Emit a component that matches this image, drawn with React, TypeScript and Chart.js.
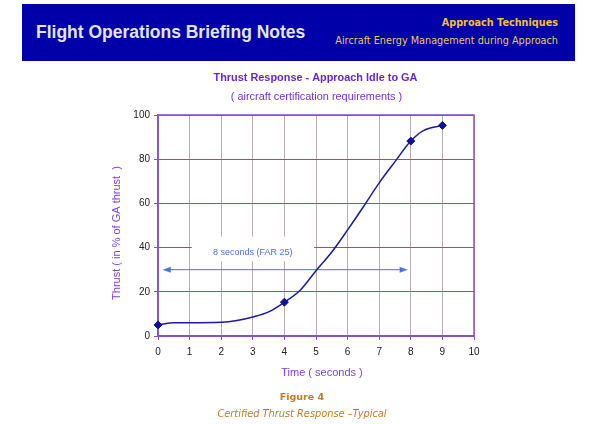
import React, { useEffect, useRef } from "react";
import { Chart, registerables } from "chart.js";

Chart.register(...registerables);

// ---- data ----
const timeSeconds = [0, 0.5, 1, 2, 2.5, 3, 3.5, 4, 4.5, 5, 5.5, 6, 6.5, 7, 7.5, 8, 8.4, 9];
const thrustPercent = [5, 6, 6, 6.2, 7, 8.6, 10.9, 15.3, 20.7, 29.5, 38, 48, 58.5, 69.3, 78.9, 88.2, 92.9, 95.3];
const markerTimes = [0, 4, 8, 9];
const xTickValues = [0, 1, 2, 3, 4, 5, 6, 7, 8, 9, 10];
const yTickValues = [0, 20, 40, 60, 80, 100];

const far25Start = 0.15;
const far25End = 7.9;
const far25Level = 30;
const far25Label = "8 seconds (FAR 25)";
const far25LabelX = 3.0;
const far25LabelY = 37.8;
const far25BoxX = [1.07, 4.94];
const far25BoxY = [33.8, 45];

const headerTitle = "Flight Operations Briefing Notes";
const headerTopic = "Approach Techniques";
const headerSub = "Aircraft Energy Management during Approach";
const chartTitle = "Thrust Response - Approach Idle to GA";
const chartSubtitle = "( aircraft certification requirements )";
const yAxisTitle = "Thrust ( in % of GA thrust  )";
const xAxisTitle = "Time ( seconds )";
const figureLabel = "Figure 4";
const figureCaption = "Certified Thrust Response \u2013Typical";

const PURPLE = "#8050d8";

export default function App() {
  const ref = useRef<HTMLCanvasElement>(null);

  useEffect(() => {
    document.body.style.margin = "0";
    const canvas = ref.current!;

    const overlay = {
      id: "overlay",
      beforeDatasetsDraw(chart: any) {
        const { ctx, chartArea } = chart;
        const xs = chart.scales.x;
        const ys = chart.scales.y;
        ctx.save();
        // white text box behind the label
        const bx1 = xs.getPixelForValue(far25BoxX[0]);
        const bx2 = xs.getPixelForValue(far25BoxX[1]);
        const by1 = ys.getPixelForValue(far25BoxY[1]);
        const by2 = ys.getPixelForValue(far25BoxY[0]);
        ctx.fillStyle = "#ffffff";
        ctx.fillRect(bx1, by1, bx2 - bx1, by2 - by1);
        // border around plot
        ctx.strokeStyle = PURPLE;
        ctx.lineWidth = 1.5;
        ctx.strokeRect(chartArea.left, chartArea.top, chartArea.right - chartArea.left, chartArea.bottom - chartArea.top);
        // arrow
        const ax1 = xs.getPixelForValue(far25Start);
        const ax2 = xs.getPixelForValue(far25End);
        const ay = ys.getPixelForValue(far25Level);
        ctx.strokeStyle = "#4a72e8";
        ctx.fillStyle = "#4a72e8";
        ctx.lineWidth = 1;
        ctx.beginPath();
        ctx.moveTo(ax1 + 4, ay);
        ctx.lineTo(ax2 - 4, ay);
        ctx.stroke();
        ctx.beginPath();
        ctx.moveTo(ax1, ay);
        ctx.lineTo(ax1 + 8, ay - 3);
        ctx.lineTo(ax1 + 8, ay + 3);
        ctx.closePath();
        ctx.fill();
        ctx.beginPath();
        ctx.moveTo(ax2, ay);
        ctx.lineTo(ax2 - 8, ay - 3);
        ctx.lineTo(ax2 - 8, ay + 3);
        ctx.closePath();
        ctx.fill();
        // label
        ctx.font = "9px 'Liberation Sans', Arial, sans-serif";
        ctx.textAlign = "center";
        ctx.textBaseline = "middle";
        ctx.fillText(far25Label, xs.getPixelForValue(far25LabelX), ys.getPixelForValue(far25LabelY));
        ctx.restore();
      },
      afterDraw(chart: any) {
        const { ctx } = chart;
        ctx.save();
        ctx.textAlign = "center";
        ctx.textBaseline = "middle";
        ctx.fillStyle = "#6a28d0";
        ctx.font = "bold 10.9px 'Liberation Sans', Arial, sans-serif";
        ctx.fillText(chartTitle, 315.5, 77.5);
        ctx.fillStyle = "#7434e0";
        ctx.font = "10.9px 'Liberation Sans', Arial, sans-serif";
        ctx.fillText(chartSubtitle, 316.5, 97);
        ctx.fillStyle = "#8040e8";
        ctx.font = "11px 'Liberation Sans', Arial, sans-serif";
        ctx.fillText(xAxisTitle, 322, 373);
        ctx.save();
        ctx.translate(117, 233);
        ctx.rotate(-Math.PI / 2);
        ctx.fillText(yAxisTitle, 0, 0);
        ctx.restore();
        ctx.restore();
      },
    };

    const chart = new Chart(canvas, {
      type: "line",
      data: {
        datasets: [
          {
            data: timeSeconds.map((t, i) => ({ x: t, y: thrustPercent[i] })),
            borderColor: "#1a1aa8",
            borderWidth: 1.5,
            tension: 0.4,
            cubicInterpolationMode: "monotone",
            pointStyle: "rectRot",
            pointRadius: timeSeconds.map((t) => (markerTimes.includes(t) ? 4 : 0)),
            pointBackgroundColor: "#10109a",
            pointBorderColor: "#10109a",
            pointBorderWidth: 1,
            clip: false,
          },
        ],
      },
      options: {
        responsive: false,
        maintainAspectRatio: false,
        animation: false,
        layout: { padding: { top: 115, right: 126, left: 0, bottom: 0 } },
        plugins: { legend: { display: false }, tooltip: { enabled: false }, title: { display: false } },
        scales: {
          x: {
            type: "linear",
            min: 0,
            max: 10,
            afterFit(s: any) {
              s.height = 88;
            },
            afterBuildTicks(s: any) {
              s.ticks = xTickValues.map((v) => ({ value: v }));
            },
            grid: { color: "#bcaeae", lineWidth: 1, tickLength: 4, tickColor: PURPLE },
            border: { color: PURPLE, width: 1.5 },
            ticks: {
              color: "#222222",
              font: { family: "'Liberation Sans', Arial, sans-serif", size: 10 },
              padding: 6,
              maxRotation: 0,
              autoSkip: false,
            },
          },
          y: {
            type: "linear",
            min: 0,
            max: 100,
            afterFit(s: any) {
              s.width = 158;
            },
            afterBuildTicks(s: any) {
              s.ticks = yTickValues.map((v) => ({ value: v }));
            },
            grid: { color: "#8a6060", lineWidth: 1, tickLength: 4, tickColor: PURPLE },
            border: { color: PURPLE, width: 1.5 },
            ticks: {
              color: "#222222",
              font: { family: "'Liberation Sans', Arial, sans-serif", size: 10 },
              padding: 4,
              autoSkip: false,
            },
          },
        },
      },
      plugins: [overlay],
    } as any);

    return () => chart.destroy();
  }, []);

  return (
    <div style={{ position: "relative", width: 600, height: 424, background: "#ffffff", overflow: "hidden" }}>
      <div
        style={{
          position: "absolute",
          left: 22,
          top: 4,
          width: 553,
          height: 57,
          background: "#0000a8",
        }}
      />
      <div
        style={{
          position: "absolute",
          left: 36,
          top: 22,
          height: 20,
          lineHeight: "20px",
          font: "bold 17.5px 'Liberation Sans', Arial, sans-serif",
          color: "#e2e6f8",
          whiteSpace: "nowrap",
        }}
      >
        {headerTitle}
      </div>
      <div
        style={{
          position: "absolute",
          right: 42,
          top: 17,
          height: 12,
          lineHeight: "12px",
          font: "bold 9.7px 'DejaVu Sans', Verdana, sans-serif",
          color: "#f0c030",
          whiteSpace: "nowrap",
        }}
      >
        {headerTopic}
      </div>
      <div
        style={{
          position: "absolute",
          right: 42,
          top: 35,
          height: 12,
          lineHeight: "12px",
          font: "9.7px 'DejaVu Sans', Verdana, sans-serif",
          color: "#e8c860",
          whiteSpace: "nowrap",
        }}
      >
        {headerSub}
      </div>
      <canvas ref={ref} width={600} height={424} style={{ position: "absolute", left: 0, top: 0 }} />
      <div
        style={{
          position: "absolute",
          left: 0,
          width: 604,
          top: 391,
          height: 14,
          lineHeight: "14px",
          textAlign: "center",
          font: "bold 9.5px 'DejaVu Sans', Verdana, sans-serif",
          color: "#c87a20",
        }}
      >
        {figureLabel}
      </div>
      <div
        style={{
          position: "absolute",
          left: 0,
          width: 604,
          top: 408,
          height: 14,
          lineHeight: "14px",
          textAlign: "center",
          font: "italic 9.8px 'DejaVu Sans', Verdana, sans-serif",
          color: "#c87a20",
        }}
      >
        {figureCaption}
      </div>
    </div>
  );
}
